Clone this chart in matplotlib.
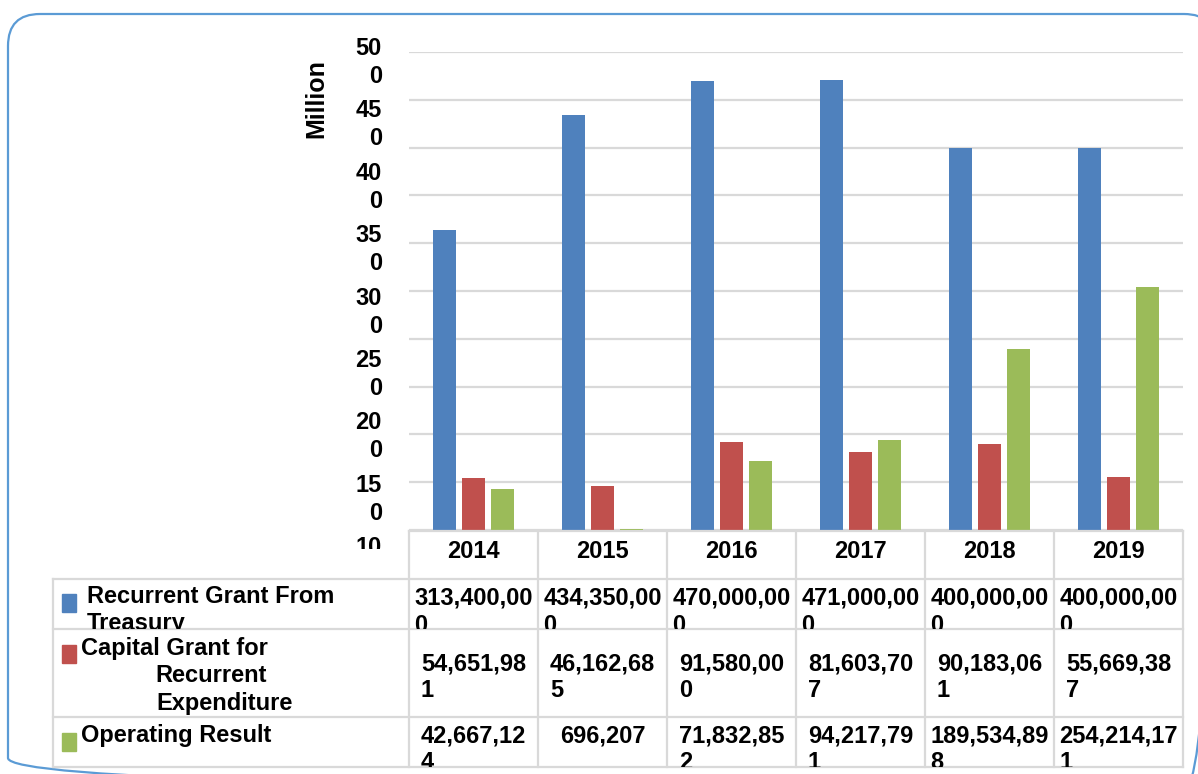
import numpy as np
import matplotlib
matplotlib.use("Agg")
import matplotlib.pyplot as plt
from matplotlib.patches import Rectangle, FancyBboxPatch
from matplotlib.transforms import Bbox, TransformedBbox

years = ["2014", "2015", "2016", "2017", "2018", "2019"]
recurrent = [313400000, 434350000, 470000000, 471000000, 400000000, 400000000]
capital = [54651981, 46162685, 91580000, 81603707, 90183061, 55669387]
operating = [42667124, 696207, 71832852, 94217791, 189534898, 254214171]
series_names = ["Recurrent Grant From Treasury",
                "Capital Grant for Recurrent Expenditure",
                "Operating Result"]
ytick_vals = [500, 450, 400, 350, 300, 250, 200, 150, 100, 50, 0]  # million

colors = ["#4F81BD", "#C0504D", "#9BBB59"]
grid_c = "#d9d9d9"
FS = 17

plt.rcParams['font.family'] = ['Liberation Sans', 'DejaVu Sans']
plt.rcParams['font.weight'] = 'bold'

W, H = 1198, 774
fig = plt.figure(figsize=(W / 100, H / 100), dpi=100)

# plot area in pixels
L, R, T, B = 409, 1183, 52, 530
ax = fig.add_axes([L / W, 1 - B / H, (R - L) / W, (B - T) / H])

x = np.arange(len(years))
bw = 0.178
off = 0.225
for i, vals in enumerate([recurrent, capital, operating]):
    ax.bar(x + (i - 1) * off, vals, width=bw, color=colors[i], zorder=3)

ax.set_xlim(-0.5, len(years) - 0.5)
ax.set_ylim(0, 500e6)
ax.set_yticks([v * 1e6 for v in ytick_vals])
ax.set_yticklabels([])
ax.set_xticks([])
ax.tick_params(length=0)
ax.yaxis.grid(True, color=grid_c, linewidth=1.6, zorder=0)
for s in ax.spines.values():
    s.set_visible(False)

# overlay in pixel coords for table, labels and frame
ov = fig.add_axes([0, 0, 1, 1])
ov.set_xlim(0, W)
ov.set_ylim(H, 0)
ov.set_axis_off()
ov.patch.set_visible(False)

fig.canvas.draw()
rend = fig.canvas.get_renderer()


def line_gap(ls):
    t1 = ov.text(0, 0, "0", fontsize=FS, linespacing=ls)
    t2 = ov.text(0, 0, "0\n0", fontsize=FS, linespacing=ls)
    g = t2.get_window_extent(rend).height - t1.get_window_extent(rend).height
    t1.remove()
    t2.remove()
    return g * 100 / fig.dpi


def ls_for(gap):
    g1, g2 = line_gap(1.0), line_gap(2.0)
    return 1 + (gap - g1) / (g2 - g1)


def clip_to(t, x0, y0, x1, y1):
    bb = Bbox.from_extents(x0 / W, 1 - y1 / H, x1 / W, 1 - y0 / H)
    t.set_clip_path(None)
    t.set_clip_box(TransformedBbox(bb, fig.transFigure))
    t.set_clip_on(True)


# broken y tick labels (wrapped like the original)
gap_y = 28
ls_y = ls_for(gap_y)
for i, v in enumerate(ytick_vals):
    s = str(v)
    lab = s[:-1] + "\n" + s[-1] if len(s) > 1 else s
    n = lab.count("\n")
    pc = 60.6 + 62.4 * i
    t = ov.text(382, pc - 5.6 + gap_y * n, lab, ha='right', va='baseline',
                ma='right', fontsize=FS, fontweight='bold', linespacing=ls_y)
    clip_to(t, 0, 0, W, 549)

ov.text(316, 99, "Million", rotation=90, ha='center', va='center',
        fontsize=18, fontweight='bold')

# data table
col_x = [L + (R - L) * k / len(years) for k in range(len(years) + 1)]
row_y = [531, 579, 629, 717, 767]
lw = 1.6
ov.plot([L, R], [row_y[0], row_y[0]], color=grid_c, lw=lw)
for yy in row_y[1:]:
    ov.plot([53, R], [yy, yy], color=grid_c, lw=lw)
ov.plot([53, 53], [row_y[1], row_y[-1]], color=grid_c, lw=lw)
for xx in col_x:
    ov.plot([xx, xx], [row_y[0], row_y[-1]], color=grid_c, lw=lw)

for j, yr in enumerate(years):
    cx = (col_x[j] + col_x[j + 1]) / 2
    ov.text(cx, 557.5, yr, ha='center', va='baseline', fontsize=FS,
            fontweight='bold')


def wrap(v):
    s = f"{v:,}"
    return s[:-1] + "\n" + s[-1] if len(s) >= 10 else s


gap_t = 27
ls_t = ls_for(gap_t)
base_y = [605, 670, 742]
for r, vals in enumerate([recurrent, capital, operating]):
    for j, v in enumerate(vals):
        cx = (col_x[j] + col_x[j + 1]) / 2
        lab = wrap(v)
        n = lab.count("\n")
        t = ov.text(cx, base_y[r] + gap_t * n, lab, ha='center',
                    va='baseline', ma='left', fontsize=FS, fontweight='bold',
                    linespacing=ls_t)
        clip_to(t, col_x[j], row_y[r + 1], col_x[j + 1], row_y[r + 2])

# row labels with legend keys
label_lines = [
    [("Recurrent Grant From", 86.7, 603.4), ("Treasury", 86.7, 630.1)],
    [("Capital Grant for", 80.7, 655), ("Recurrent", 155, 682.4),
     ("Expenditure", 156, 710)],
    [("Operating Result", 80.7, 741.7)],
]
key_top = [594, 645, 733]
for r in range(3):
    ov.add_patch(Rectangle((61.7, key_top[r]), 14.3, 17.5, color=colors[r]))
    for txt, xx, yy in label_lines[r]:
        t = ov.text(xx, yy, txt, ha='left', va='baseline', fontsize=FS,
                    fontweight='bold')
        clip_to(t, 53, row_y[r + 1], col_x[0], row_y[r + 2])

# rounded chart frame
ov.add_patch(FancyBboxPatch((8, 14), 1208, 776,
                            boxstyle="round,pad=0,rounding_size=32",
                            fill=False, edgecolor="#5B9BD5", lw=1.6))

fig.savefig("out.png", dpi=100)
